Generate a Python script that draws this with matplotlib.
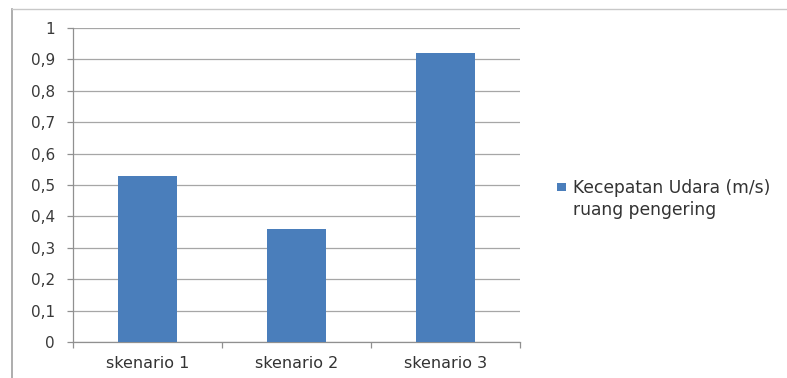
import matplotlib
matplotlib.use("Agg")
import matplotlib.pyplot as plt
from matplotlib.patches import Rectangle

categories = ["skenario 1", "skenario 2", "skenario 3"]
values = [0.53, 0.36, 0.92]
yticks = [0, 0.1, 0.2, 0.3, 0.4, 0.5, 0.6, 0.7, 0.8, 0.9, 1.0]
ytick_labels = ["0", "0,1", "0,2", "0,3", "0,4", "0,5", "0,6", "0,7", "0,8", "0,9", "1"]
legend_label = "Kecepatan Udara (m/s)\nruang pengering"

plt.rcParams['font.family'] = ['DejaVu Sans']

W, H = 787, 378
fig = plt.figure(figsize=(W / 100, H / 100), dpi=100)
fig.patch.set_facecolor("white")

# outer chart frame (left and top lines)
fig.add_artist(plt.Line2D([12 / W, 12 / W], [0, 1 - 9 / H], color="#a0a0a0", lw=1.2))
fig.add_artist(plt.Line2D([12 / W, 1], [1 - 9 / H, 1 - 9 / H], color="#c8c8c8", lw=1.0))

left, right = 73 / W, 520 / W
bottom, top = 1 - 342 / H, 1 - 28 / H
ax = fig.add_axes([left, bottom, right - left, top - bottom])

color = "#4a7ebb"
x = list(range(len(categories)))
bars = ax.bar(x, values, width=0.39, color=color, zorder=3, label=legend_label)
ax.set_xlim(-0.5, len(categories) - 0.5)
ax.set_ylim(0, 1)
ax.set_yticks(yticks)
ax.set_yticklabels(ytick_labels)
ax.yaxis.grid(True, color="#a6a6a6", lw=0.9, zorder=0)
ax.set_axisbelow(True)

for s in ["top", "right"]:
    ax.spines[s].set_visible(False)
for s in ["left", "bottom"]:
    ax.spines[s].set_color("#909090")
    ax.spines[s].set_linewidth(0.9)

ax.set_xticks(x)
ax.set_xticklabels(categories)
ax.tick_params(axis="x", length=0, pad=10, labelsize=11.5, colors="#333333")
ax.set_xticks([-0.5, 0.5, 1.5, 2.5], minor=True)
ax.tick_params(axis="x", which="minor", length=4, color="#909090", width=0.9)
ax.tick_params(axis="y", length=4, color="#909090", width=0.9, pad=9, labelsize=11, labelcolor="#3a3a3a")

# legend: marker aligned with first line, as in the reference
fig.add_artist(Rectangle((557 / W, 1 - 191 / H), 9 / W, 8 / H, transform=fig.transFigure,
                         facecolor=color, edgecolor="none"))
fig.text(573 / W, 1 - 179 / H, bars.get_label(), ha="left", va="top", fontsize=12.3,
         linespacing=1.3, color="#333333")

fig.savefig("out.png", dpi=100)
